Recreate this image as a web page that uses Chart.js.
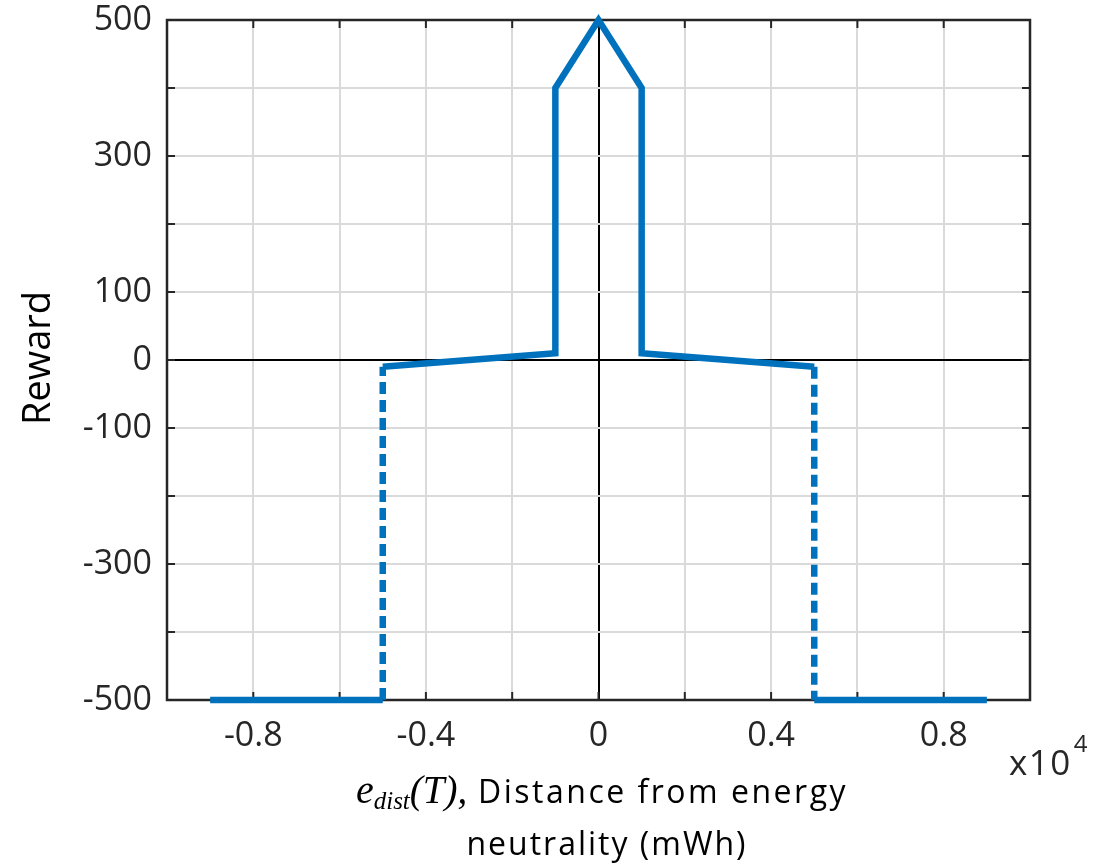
<!DOCTYPE html>
<html lang="en">
<head>
    <meta charset="UTF-8">
    <title>Reward vs distance from energy neutrality</title>
    <script src="https://cdn.jsdelivr.net/npm/chart.js@4.4.1/dist/chart.umd.min.js"></script>
    <style>
        html, body { margin: 0; padding: 0; background: #fff; }
        #wrap { width: 1103px; height: 865px; }
    </style>
</head>
<body>
    <div id="wrap"><canvas id="rewardChart" width="1103" height="865"></canvas></div>
    <script>
        // path of the reward curve, x in units of 10^4 mWh
        const distX = [-0.9, -0.5, -0.5, -0.1, -0.1, 0, 0.1, 0.1, 0.5, 0.5, 0.9];
        const reward = [-500, -500, -10, 10, 400, 500, 400, 10, -10, -500, -500];
        const xTickLabels = [-0.8, -0.4, 0, 0.4, 0.8];
        const yTickLabels = [500, 300, 100, 0, -100, -300, -500];

        const blue = '#0072BD';
        const axisColor = '#262626';
        const font = '"Open Sans", "Noto Sans", sans-serif';

        // split the path: the drops at x = +-0.5 go into a dashed dataset
        const solidPts = [];
        const dashedPts = [];
        for (let i = 0; i < distX.length - 1; i++) {
            const a = { x: distX[i], y: reward[i] };
            const b = { x: distX[i + 1], y: reward[i + 1] };
            const isDrop = distX[i] === distX[i + 1] && Math.abs(distX[i]) === 0.5;
            const target = isDrop ? dashedPts : solidPts;
            const last = target[target.length - 1];
            if (last && last.y !== null && last.x === a.x && last.y === a.y) {
                target.push(b);
            } else {
                if (target.length) target.push({ x: a.x, y: null });
                target.push(a, b);
            }
        }

        // MATLAB-ish extras: box, inward ticks, axis titles
        const decor = {
            id: 'decor',
            beforeDatasetsDraw(chart) {
                const { ctx, chartArea: a, scales } = chart;
                ctx.save();
                ctx.strokeStyle = axisColor;
                ctx.lineWidth = 2.5;
                ctx.strokeRect(a.left, a.top, a.right - a.left, a.bottom - a.top);
                ctx.lineWidth = 2;
                scales.x.ticks.forEach(t => {
                    const px = scales.x.getPixelForValue(t.value);
                    ctx.beginPath();
                    ctx.moveTo(px, a.bottom); ctx.lineTo(px, a.bottom - 8);
                    ctx.moveTo(px, a.top); ctx.lineTo(px, a.top + 8);
                    ctx.stroke();
                });
                scales.y.ticks.forEach(t => {
                    const py = scales.y.getPixelForValue(t.value);
                    ctx.beginPath();
                    ctx.moveTo(a.left, py); ctx.lineTo(a.left + 8, py);
                    ctx.moveTo(a.right, py); ctx.lineTo(a.right - 8, py);
                    ctx.stroke();
                });
                ctx.restore();
            },
            afterDraw(chart) {
                const { ctx } = chart;
                ctx.save();
                ctx.fillStyle = '#000';
                // y title
                ctx.save();
                ctx.translate(50, 358);
                ctx.rotate(-Math.PI / 2);
                ctx.font = '38px ' + font;
                ctx.textAlign = 'center';
                ctx.textBaseline = 'alphabetic';
                ctx.fillText('Reward', 0, 0);
                ctx.restore();

                // exponent
                ctx.fillStyle = axisColor;
                ctx.font = '35px ' + font;
                ctx.letterSpacing = '1.5px';
                ctx.textAlign = 'left';
                ctx.fillText('x10', 1009, 775);
                const ew = ctx.measureText('x10').width;
                ctx.letterSpacing = '0px';
                ctx.font = '24px ' + font;
                ctx.fillText('4', 1009 + ew + 2, 752);

                // x title, first line with italic math part
                ctx.fillStyle = '#000';
                const parts = [
                    { t: 'e', f: 'italic 40px "Liberation Serif", serif', dy: 0, ls: '0px' },
                    { t: 'dist', f: 'italic 25px "Liberation Serif", serif', dy: 6, ls: '0px' },
                    { t: '(T),', f: 'italic 39px "Liberation Serif", serif', dy: 0, ls: '0px' },
                    { t: ' Distance from energy', f: '32px ' + font, dy: 0, ls: '2.5px' }
                ];
                let w = 0;
                parts.forEach(p => { ctx.font = p.f; ctx.letterSpacing = p.ls; w += ctx.measureText(p.t).width; });
                let x = 602 - w / 2;
                parts.forEach(p => {
                    ctx.font = p.f;
                    ctx.letterSpacing = p.ls;
                    ctx.fillText(p.t, x, 803 + p.dy);
                    x += ctx.measureText(p.t).width;
                });
                ctx.font = '32px ' + font;
                ctx.letterSpacing = '2px';
                ctx.textAlign = 'center';
                ctx.fillText('neutrality (mWh)', 607, 855);
                ctx.restore();
            }
        };

        const lineStyle = {
            showLine: true,
            borderColor: blue,
            borderWidth: 6.5,
            pointRadius: 0,
            fill: false,
            tension: 0,
            spanGaps: false,
            clip: false
        };

        new Chart(document.getElementById('rewardChart'), {
            type: 'scatter',
            data: {
                datasets: [
                    Object.assign({ data: solidPts }, lineStyle),
                    Object.assign({ data: dashedPts, borderDash: [12, 6] }, lineStyle)
                ]
            },
            options: {
                responsive: false,
                animation: false,
                layout: { padding: { top: 20, right: 73, left: 0, bottom: 0 } },
                plugins: { legend: { display: false }, tooltip: { enabled: false } },
                scales: {
                    x: {
                        type: 'linear',
                        min: -1, max: 1,
                        afterFit: s => { s.height = 165; s.paddingLeft = 0; s.paddingRight = 0; },
                        afterBuildTicks: s => { s.ticks = [-1, -0.8, -0.6, -0.4, -0.2, 0, 0.2, 0.4, 0.6, 0.8, 1].map(v => ({ value: v })); },
                        grid: {
                            drawTicks: false,
                            lineWidth: 2,
                            color: c => c.tick && Math.abs(c.tick.value) < 1e-9 ? '#000' : '#dadada'
                        },
                        border: { display: false },
                        ticks: {
                            padding: 16,
                            color: axisColor,
                            maxRotation: 0,
                            autoSkip: false,
                            font: { size: 34, family: font },
                            callback: v => {
                                const r = Math.round(v * 10) / 10;
                                return xTickLabels.includes(r) ? String(r) : '';
                            }
                        }
                    },
                    y: {
                        min: -500, max: 500,
                        afterFit: s => { s.width = 167; s.paddingTop = 0; s.paddingBottom = 0; },
                        afterBuildTicks: s => {
                            const t = [];
                            for (let v = -500; v <= 500; v += 100) t.push({ value: v });
                            s.ticks = t;
                        },
                        grid: {
                            drawTicks: false,
                            lineWidth: 2,
                            color: c => c.tick && c.tick.value === 0 ? '#000' : '#dadada'
                        },
                        border: { display: false },
                        ticks: {
                            padding: 15,
                            color: axisColor,
                            autoSkip: false,
                            font: { size: 34, family: font },
                            callback: v => yTickLabels.includes(v) ? String(v) : ''
                        }
                    }
                }
            },
            plugins: [decor]
        });
    </script>
</body>
</html>
